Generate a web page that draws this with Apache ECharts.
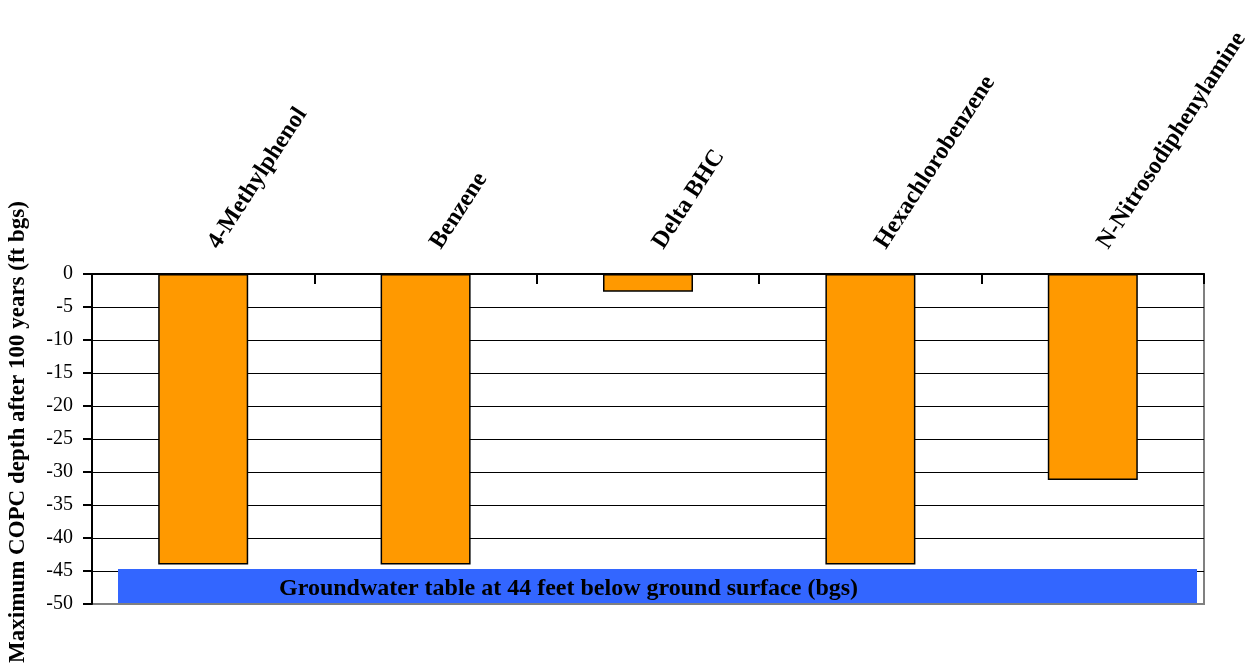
<!DOCTYPE html>
<html>
<head>
<meta charset="utf-8">
<script src="https://cdn.jsdelivr.net/npm/echarts@6/dist/echarts.min.js"></script>
<style>
html,body{margin:0;padding:0;background:#fff;}
#c{width:1251px;height:671px;}
</style>
</head>
<body>
<div id="c"></div>
<script>
var categories = ['4-Methylphenol', 'Benzene', 'Delta BHC', 'Hexachlorobenzene', 'N-Nitrosodiphenylamine'];
var depths = [-44, -44, -2.7, -44, -31.2];
var yTicks = [0, -5, -10, -15, -20, -25, -30, -35, -40, -45, -50];
var groundwaterBand = [-44.7, -50];
var groundwaterLabel = 'Groundwater table at 44 feet below ground surface (bgs)';
var yTitle = 'Maximum COPC depth after 100 years (ft bgs)';

var SERIF = "'Liberation Serif', 'Times New Roman', serif";
var chart = echarts.init(document.getElementById('c'), null, {renderer: 'canvas'});
var option = {
  animation: false,
  backgroundColor: '#fff',
  grid: {left: 92, right: 47, top: 274, bottom: 67, show: true, borderColor: '#808080', borderWidth: 2, backgroundColor: 'transparent', outerBoundsMode: 'none', containLabel: false},
  xAxis: {
    type: 'category',
    position: 'top',
    data: categories,
    boundaryGap: true,
    axisLine: {show: true, lineStyle: {color: '#000', width: 2}},
    axisTick: {show: true, inside: true, length: 10, lineStyle: {color: '#000', width: 2}},
    axisLabel: {rotate: 57, margin: 34, verticalAlign: 'top', color: '#000', fontFamily: SERIF, fontWeight: 'bold', fontSize: 24, interval: 0},
    splitLine: {show: false}
  },
  yAxis: {
    type: 'value',
    min: yTicks[yTicks.length - 1],
    max: yTicks[0],
    interval: 5,
    name: yTitle,
    nameLocation: 'middle',
    nameGap: 62,
    nameRotate: 90,
    nameTextStyle: {color: '#000', fontFamily: SERIF, fontWeight: 'bold', fontSize: 23, padding: [0, 0, 0, 14]},
    axisLine: {show: true, lineStyle: {color: '#000', width: 2}},
    axisTick: {show: true, inside: false, length: 9, lineStyle: {color: '#000', width: 2}},
    axisLabel: {color: '#000', fontFamily: SERIF, fontSize: 20, margin: 19},
    splitLine: {show: true, showMinLine: false, lineStyle: {color: '#000', width: 1}}
  },
  series: [{
    type: 'bar',
    data: depths,
    barWidth: 90,
    itemStyle: {color: '#FF9900', borderColor: '#000', borderWidth: 1.5}
  }]
};
chart.setOption(option);

function drawBand() {
  var yTop = chart.convertToPixel({yAxisIndex: 0}, groundwaterBand[0]);
  var yBot = chart.convertToPixel({yAxisIndex: 0}, groundwaterBand[1]);
  var gridLeft = 92, gridRight = 1251 - 47;
  var x0 = gridLeft + 26, x1 = gridRight - 7;
  chart.setOption({
    graphic: [{
      type: 'rect',
      z: 100,
      shape: {x: x0, y: yTop, width: x1 - x0, height: yBot - yTop - 1},
      style: {fill: '#3366FF'}
    }, {
      type: 'text',
      z: 101,
      x: x0 + 161,
      y: (yTop + yBot) / 2 + 2,
      style: {text: groundwaterLabel, fill: '#000', font: "bold 24px " + SERIF, textAlign: 'left', textVerticalAlign: 'middle'}
    }]
  });
}
drawBand();
</script>
</body>
</html>
